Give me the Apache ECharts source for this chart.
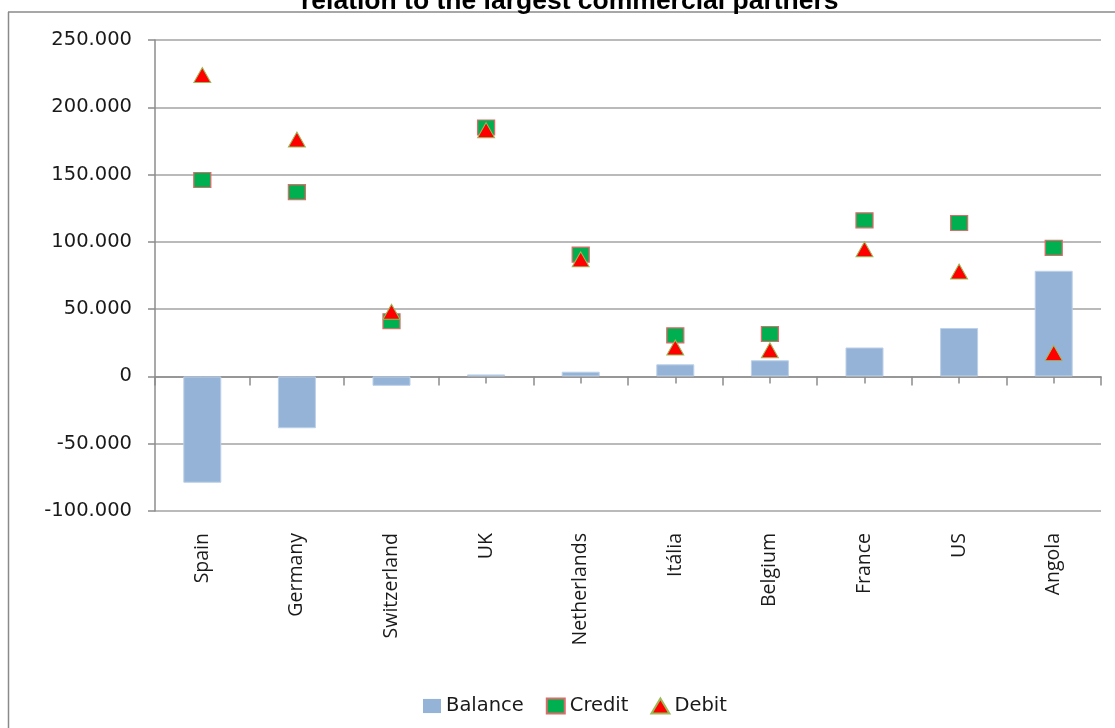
<!DOCTYPE html>
<html>
<head>
<meta charset="utf-8">
<script src="https://cdn.jsdelivr.net/npm/echarts@6/dist/echarts.min.js"></script>
<style>
  html, body { margin: 0; padding: 0; background: #fff; }
  #chart { width: 1115px; height: 728px; }
</style>
</head>
<body>
<div id="chart"></div>
<script>
// Trade with the largest commercial partners (thousands)
const categories = ['Spain', 'Germany', 'Switzerland', 'UK', 'Netherlands', 'Itália', 'Belgium', 'France', 'US', 'Angola'];
const balance = [-79000, -38500, -7000, 1500, 3500, 9000, 12000, 21500, 36000, 78500];
const credit  = [146000, 137000, 41000, 185000, 90500, 30500, 31500, 116000, 114000, 95500];
const debit   = [224000, 176000, 48000, 183000, 87000, 21500, 19500, 94500, 78000, 17500];
const yTicks  = [-100000, -50000, 0, 50000, 100000, 150000, 200000, 250000];

const titleText = 'relation to the largest commercial partners';

// thousands separator "."
function fmt(v) {
  const s = String(Math.abs(v)).replace(/\B(?=(\d{3})+(?!\d))/g, '.');
  return (v < 0 ? '-' : '') + s;
}

const chart = echarts.init(document.getElementById('chart'));
const grid = { left: 155, right: 14, top: 40, bottom: 217 };
const axisGray = '#8c8c8c';
const textColor = '#1a1a1a';

chart.setOption({
  backgroundColor: '#ffffff',
  animation: false,
  title: {
    text: titleText,
    left: 296,
    top: -17,
    textStyle: { fontFamily: 'Liberation Sans', fontWeight: 'bold', fontSize: 26.5, color: '#000' }
  },
  graphic: [
    { type: 'line', shape: { x1: 8, y1: 12, x2: 1115, y2: 12 }, style: { stroke: '#8a8a8a', lineWidth: 1.5 }, silent: true },
    { type: 'line', shape: { x1: 8.5, y1: 12, x2: 8.5, y2: 728 }, style: { stroke: '#8a8a8a', lineWidth: 1.5 }, silent: true }
  ],
  legend: {
    left: 418,
    top: 691,
    itemWidth: 18,
    itemHeight: 15,
    itemGap: 22,
    textStyle: { fontFamily: 'DejaVu Sans', fontSize: 19.5, color: textColor },
    data: [
      { name: 'Balance', icon: 'path://M2,2h14v11h-14z', itemStyle: { borderWidth: 0 } },
      { name: 'Credit', icon: 'rect' },
      { name: 'Debit', icon: 'triangle' }
    ]
  },
  grid: grid,
  xAxis: [
    {
      // category labels along the bottom of the plot
      type: 'category',
      data: categories,
      position: 'bottom',
      axisLine: { show: false, onZero: false },
      axisTick: { show: false },
      axisLabel: { rotate: 90, margin: 22, fontFamily: 'Open Sans', fontSize: 19.5, color: textColor }
    },
    {
      // zero line with ticks at category boundaries
      type: 'category',
      data: categories,
      position: 'bottom',
      axisLine: { show: true, onZero: true, lineStyle: { color: axisGray, width: 1.5 } },
      axisTick: { show: true, alignWithLabel: false, length: 9, lineStyle: { color: axisGray, width: 1.5 } },
      axisLabel: { show: false }
    },
    {
      // short ticks at category centres
      type: 'category',
      data: categories,
      position: 'bottom',
      axisLine: { show: false, onZero: true },
      axisTick: { show: true, alignWithLabel: true, length: 7, lineStyle: { color: axisGray, width: 1.5 } },
      axisLabel: { show: false }
    }
  ],
  yAxis: [
    {
      type: 'value',
      min: yTicks[0],
      max: yTicks[yTicks.length - 1],
      interval: 50000,
      axisLine: { show: true, onZero: false, lineStyle: { color: axisGray, width: 1.5 } },
      axisTick: { show: true, length: 7, lineStyle: { color: axisGray, width: 1.5 } },
      splitLine: { show: true, lineStyle: { color: '#a3a3a3', width: 1.5 } },
      axisLabel: { margin: 23, fontFamily: 'DejaVu Sans', fontSize: 19.5, color: textColor, formatter: fmt }
    },
    {
      type: 'value',
      min: yTicks[0],
      max: yTicks[yTicks.length - 1],
      interval: 50000,
      show: false,
      axisLine: { show: false, onZero: false },
      splitLine: { show: false }
    }
  ],
  series: [
    {
      name: 'Balance',
      type: 'bar',
      xAxisIndex: 0,
      yAxisIndex: 0,
      data: balance,
      barWidth: 38,
      itemStyle: { color: '#95b3d7', borderColor: '#bcd0e8', borderWidth: 1 }
    },
    {
      name: 'Credit',
      type: 'scatter',
      xAxisIndex: 0,
      yAxisIndex: 0,
      data: credit,
      symbol: 'rect',
      symbolSize: [17, 15],
      itemStyle: { color: '#00b050', borderColor: '#dc6b6b', borderWidth: 1.2, opacity: 1 }
    },
    {
      name: 'Debit',
      type: 'scatter',
      xAxisIndex: 0,
      yAxisIndex: 0,
      data: debit,
      symbol: 'triangle',
      symbolSize: [17, 15],
      itemStyle: { color: '#ff0000', borderColor: '#9bbb59', borderWidth: 1, opacity: 1 }
    }
  ]
});
</script>
</body>
</html>
